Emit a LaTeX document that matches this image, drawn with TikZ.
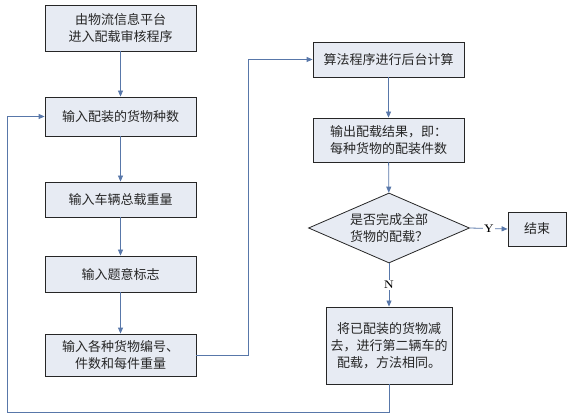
\documentclass[tikz,border=0pt]{standalone}
\usepackage{fontspec}
\newfontfamily\cjk{Noto Sans CJK SC}
\usetikzlibrary{shapes.geometric,arrows.meta}
\definecolor{boxfill}{HTML}{E7EBF3}
\definecolor{linkblue}{HTML}{5877A9}

\begin{document}
\begin{tikzpicture}[x=1pt, y=-1pt,
		stepbox/.style={draw=black!85, fill=boxfill, line width=0.8pt, inner sep=0pt,
			minimum width=151pt, align=center, text=black!85,
			font=\cjk\fontsize{13pt}{17pt}\selectfont},
		testbox/.style={stepbox, shape=diamond, aspect=2.3, minimum width=161pt, minimum height=70pt},
		link/.style={draw=linkblue, line width=0.8pt},
		arr/.style={link, -{Triangle[length=6pt,width=5pt]}},
		tag/.style={fill=white, inner sep=1.5pt, font=\bfseries\fontsize{11pt}{12pt}\selectfont}]
		\useasboundingbox (0,0) rectangle (567,419);

		\node[stepbox, minimum height=46pt] (start) at (120.5,28) {由物流信息平台\\进入配载审核程序};
		\node[stepbox, minimum height=39pt] (kinds) at (120.5,116.5) {输入配装的货物种数};
		\node[stepbox, minimum height=35pt] (weight) at (120.5,199.5) {输入车辆总载重量};
		\node[stepbox, minimum height=36pt] (flag) at (120.5,274) {输入题意标志};
		\node[stepbox, minimum height=42pt] (goods) at (120.5,355) {输入各种货物编号、\\件数和每件重量};

		\node[stepbox, minimum height=35pt] (calc) at (388.5,59.5) {算法程序进行后台计算};
		\node[stepbox, minimum height=44pt] (result) at (388.5,140) {输出配载结果，即：\\每种货物的配装件数};
		\node[testbox] (done) at (389,228) {是否完成全部\\货物的配载？};
		\node[stepbox, minimum width=58pt, minimum height=34pt] (finish) at (537,229) {结束};
		\node[stepbox, minimum width=126pt, minimum height=77pt] (next) at (389,345.5) {将已配装的货物减\\去，进行第二辆车的\\配载，方法相同。};

		\coordinate (up) at (248,355);
		\coordinate (back) at (7,412);

		\draw[arr] (start) -- (kinds);
		\draw[arr] (kinds) -- (weight);
		\draw[arr] (weight) -- (flag);
		\draw[arr] (flag) -- (goods);
		\draw[arr] (goods.east) -- (up) |- (calc.west);
		\draw[arr] (calc) -- (result);
		\draw[arr] (result) -- (done);
		\draw[arr] (done.east) -- node[tag] {Y} (finish.west);
		\draw[arr] (done.south) -- node[tag] {N} (next.north);
		\draw[arr] (next.south) |- (back) |- (kinds.west);
	\end{tikzpicture}
\end{document}
